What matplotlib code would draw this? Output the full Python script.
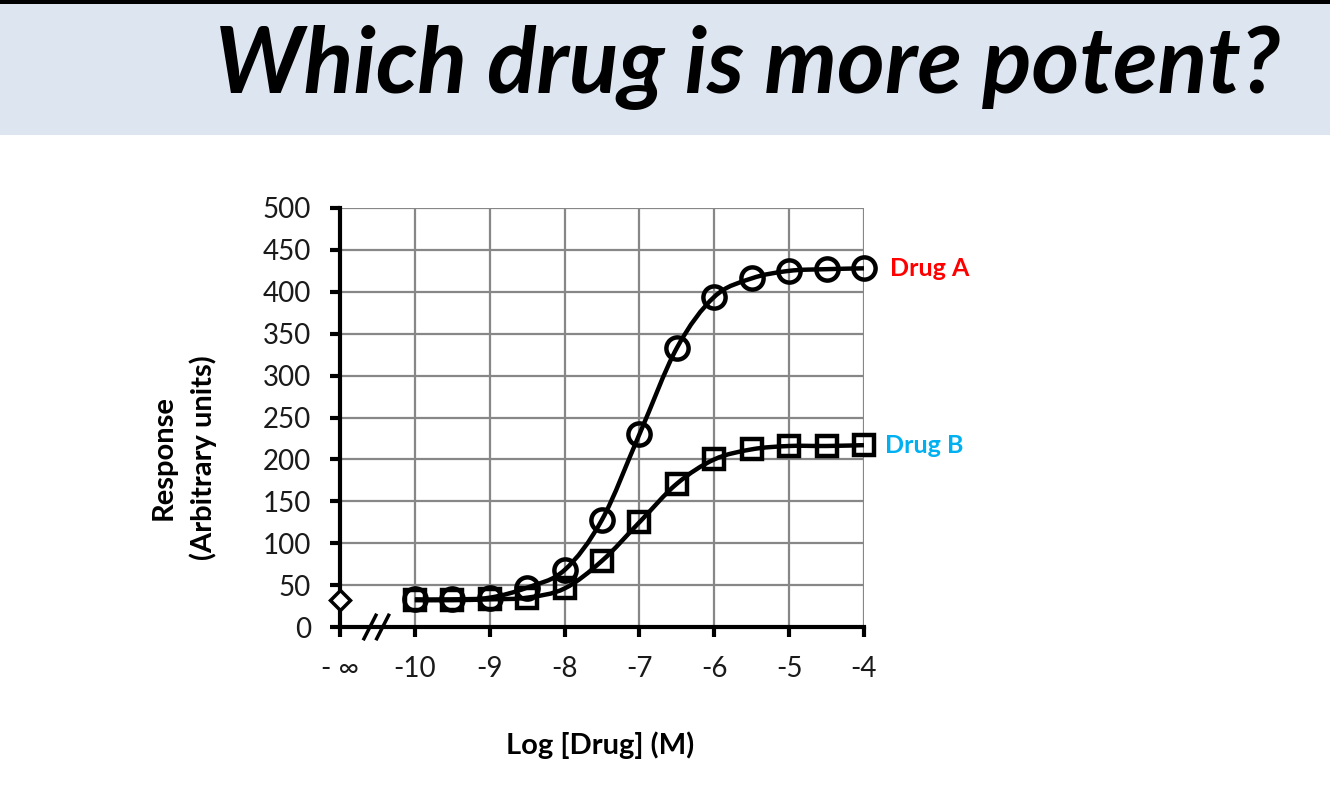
import numpy as np
import matplotlib
matplotlib.use("Agg")
import matplotlib.pyplot as plt
from matplotlib.path import Path
from matplotlib.patches import PathPatch, Rectangle

plt.rcParams['font.family'] = ['Lato', 'DejaVu Sans']

# data
log_dose = [-10, -9.5, -9, -8.5, -8, -7.5, -7, -6.5, -6, -5.5, -5, -4.5, -4]
drug_a = [33, 33, 35, 47, 68, 128, 230, 333, 394, 416, 425, 427, 428]
drug_b = [32, 32, 33, 35, 46, 79, 125, 171, 200, 212, 216, 216, 217]
baseline_x = [-11]
baseline_y = [32]

x_ticks = [-11, -10, -9, -8, -7, -6, -5, -4]
x_ticklabels = ["- \u221e", "-10", "-9", "-8", "-7", "-6", "-5", "-4"]
y_ticks = list(range(0, 501, 50))


def smooth_path(xs, ys):
    # Excel-style smoothed line: cubic bezier through the points
    pts = np.column_stack([xs, ys]).astype(float)
    n = len(pts)
    verts = [pts[0]]
    codes = [Path.MOVETO]
    for i in range(n - 1):
        p0 = pts[i - 1] if i > 0 else pts[i]
        p1 = pts[i]
        p2 = pts[i + 1]
        p3 = pts[i + 2] if i + 2 < n else pts[i + 1]
        c1 = p1 + (p2 - p0) / 6.0
        c2 = p2 - (p3 - p1) / 6.0
        verts += [c1, c2, p2]
        codes += [Path.CURVE4] * 3
    return Path(verts, codes)


fig = plt.figure(figsize=(13.3, 8), dpi=100)

# title banner
fig.patches.append(Rectangle((0, 1 - 135 / 800), 1, 135 / 800, transform=fig.transFigure,
                             facecolor="#DDE5F0", edgecolor="none", zorder=0))
fig.patches.append(Rectangle((0, 1 - 4 / 800), 1, 4 / 800, transform=fig.transFigure,
                             facecolor="#000000", edgecolor="none", zorder=1))
fig.text(748 / 1330, 1 - 68 / 800, "Which drug is more potent?", ha="center", va="center",
         fontsize=66, fontweight="bold", fontstyle="italic", color="black")

ax = fig.add_axes([340 / 1330, 1 - 627 / 800, 524 / 1330, 419 / 800])
ax.set_xlim(-11, -4)
ax.set_ylim(0, 500)

# grid
for xv in x_ticks[1:]:
    ax.axvline(xv, color="#878787", lw=1.6, zorder=1)
for yv in y_ticks[1:]:
    ax.axhline(yv, color="#878787", lw=1.6, zorder=1)

ax.spines['top'].set_visible(False)
ax.spines['right'].set_visible(False)
for s in ['left', 'bottom']:
    ax.spines[s].set_linewidth(3)
    ax.spines[s].set_color("black")
    ax.spines[s].set_zorder(2)

ax.set_xticks(x_ticks)
ax.set_xticklabels(x_ticklabels)
ax.set_yticks(y_ticks)
ax.tick_params(axis='both', direction='out', length=7, width=3, color="black",
               labelsize=20, labelcolor="#1a1a1a")
ax.tick_params(axis='x', pad=14)
ax.tick_params(axis='y', pad=14)

# smoothed curves
for ys in (drug_a, drug_b):
    ax.add_patch(PathPatch(smooth_path(log_dose, ys), facecolor="none", edgecolor="black",
                           lw=3.2, zorder=3, clip_on=False))

ax.plot(log_dose, drug_b, ls="none", marker="s", ms=15, mfc="none", mec="black",
        mew=3.2, zorder=4, clip_on=False)
ax.plot(log_dose, drug_a, ls="none", marker="o", ms=16, mfc="none", mec="black",
        mew=3.2, zorder=5, clip_on=False)
ax.plot(baseline_x, baseline_y, ls="none", marker="D", ms=10, mfc="white", mec="black",
        mew=2.5, zorder=5, clip_on=False)

# axis break marks
for dx in (-10.6, -10.43):
    ax.plot([dx - 0.08, dx + 0.08], [-14, 14], color="black", lw=2.5, zorder=6, clip_on=False)

ax.text(-3.65, drug_a[-1], "Drug A", color="#FF0000", fontsize=18, fontweight="bold",
        va="center", ha="left")
ax.text(-3.72, drug_b[-1], "Drug B", color="#00B0F0", fontsize=18, fontweight="bold",
        va="center", ha="left")

fig.text(600 / 1330, 1 - 745 / 800, "Log [Drug] (M)", ha="center", va="center",
         fontsize=21, fontweight="bold")
fig.text(184 / 1330, 1 - 458 / 800, "Response\n(Arbitrary units)", ha="center", va="center",
         rotation=90, fontsize=21, fontweight="bold", linespacing=1.55)

fig.savefig("out.png", dpi=100)
